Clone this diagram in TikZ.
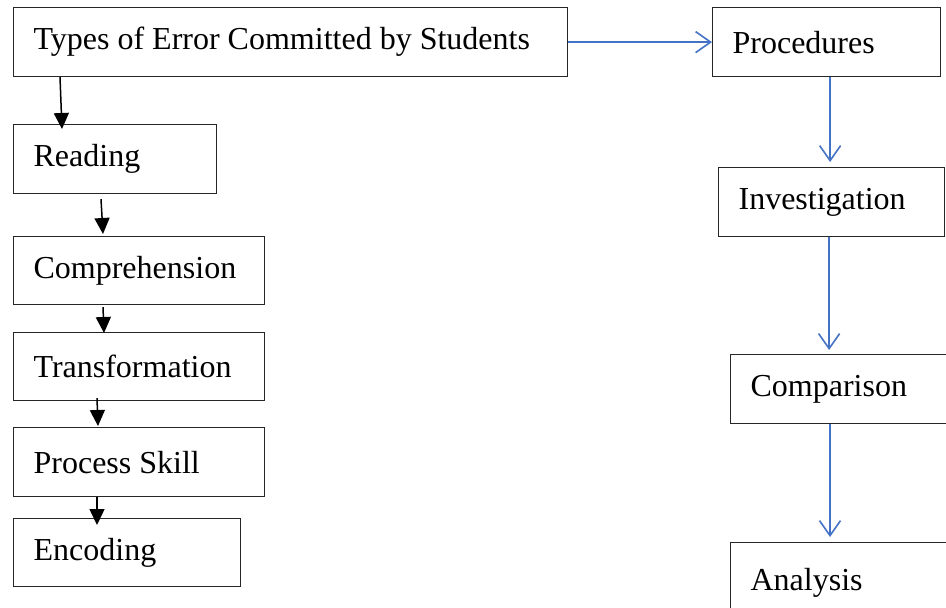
\documentclass[tikz,border=0pt]{standalone}
\usepackage{fontspec}
\setmainfont{Liberation Serif}
\usetikzlibrary{arrows.meta, positioning}
\definecolor{wordblue}{RGB}{68,114,196}

\begin{document}
\begin{tikzpicture}[x=1pt, y=-1pt]
    % Block styles
    \tikzstyle{block} = [rectangle, draw=black!85, line width=1.2pt, anchor=north west, inner xsep=20pt, inner ysep=0pt, align=flush left, font=\fontsize{32}{36}\selectfont]
    \tikzstyle{down} = [draw, line width=1.5pt, -{Triangle[length=16pt, width=15pt]}]
    \tikzstyle{flow} = [draw=wordblue, line width=1.6pt, -{Straight Barb[length=15pt, width=21pt]}]
    \useasboundingbox (0,0) rectangle (946,608);
    \clip (0,0) rectangle (946,608);
    % Types of error
    \node[block, text width=514pt, minimum height=69pt] (types) at (13,7) {Types of Error Committed by Students};
    \node[block, text width=163pt, minimum height=69pt] (reading) at (13,124) {Reading};
    \node[block, text width=211pt, minimum height=68pt] (comprehension) at (13,236) {Comprehension};
    \node[block, text width=211pt, minimum height=68pt] (transformation) at (13,332) {Transformation};
    \node[block, text width=211pt, minimum height=69pt] (process_skill) at (13,427) {Process Skill};
    \node[block, text width=187pt, minimum height=68pt] (encoding) at (13,518) {Encoding};
    % Procedures
    \node[block, text width=188pt, minimum height=69pt] (procedures) at (712,7) {Procedures};
    \node[block, text width=186pt, minimum height=69pt] (investigation) at (718,167) {Investigation};
    \node[block, text width=200pt, minimum height=69pt] (comparison) at (730,354) {Comparison};
    \node[block, text width=200pt, minimum height=80pt] (analysis) at (730,542) {Analysis};
    % Connections
    \draw[down] ([xshift=47pt]types.south west) -- ([xshift=49pt, yshift=-5pt]reading.north west);
    \draw[down] ([xshift=88pt, yshift=-5pt]reading.south west) -- ([xshift=90pt, yshift=2pt]comprehension.north west);
    \draw[down] ([xshift=90pt, yshift=-2pt]comprehension.south west) -- ([xshift=91pt, yshift=-1pt]transformation.north west);
    \draw[down] ([xshift=84pt, yshift=3pt]transformation.south west) -- ([xshift=85pt, yshift=1pt]process_skill.north west);
    \draw[down] ([xshift=84pt]process_skill.south west) -- ([xshift=84pt, yshift=-7pt]encoding.north west);
    \draw[flow] (types.east) -- (procedures.west);
    \draw[flow, shorten >=5pt] ([xshift=3.5pt]procedures.south) -- ([xshift=3.5pt]procedures.south |- investigation.north);
    \draw[flow, shorten >=4pt] ([xshift=-2.5pt]investigation.south) -- ([xshift=-2.5pt]investigation.south |- comparison.north);
    \draw[flow, shorten >=5pt] ([xshift=100pt]comparison.south west) -- ([xshift=100pt]analysis.north west);
\end{tikzpicture}
\end{document}
